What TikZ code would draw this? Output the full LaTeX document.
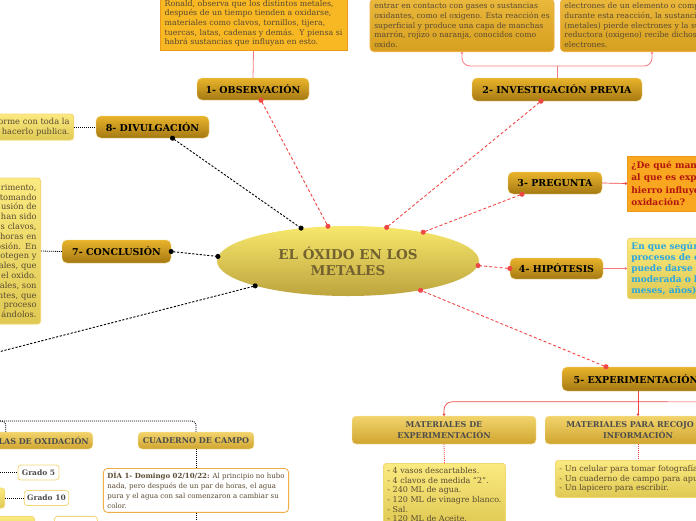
\documentclass[tikz,border=0pt]{standalone}
\usepackage{fontspec}
\setmainfont{DejaVu Serif}
\usetikzlibrary{shapes.geometric,arrows.meta,positioning}
\definecolor{topictop}{HTML}{E9B42B}
\definecolor{topicbot}{HTML}{A57913}
\definecolor{orangebox}{HTML}{F8B824}
\definecolor{orangeedge}{HTML}{EC9A1C}
\definecolor{darktop}{HTML}{EAB83C}
\definecolor{darkbot}{HTML}{D69F1E}
\definecolor{yelltop}{HTML}{FBEA80}
\definecolor{yellbot}{HTML}{DFC953}
\definecolor{yelledge}{HTML}{F4D775}
\definecolor{goldtop}{HTML}{F2D46C}
\definecolor{goldbot}{HTML}{D0A530}
\definecolor{linkred}{HTML}{F04646}
\definecolor{linkpink}{HTML}{F47C80}
\definecolor{centop}{HTML}{F8E86C}
\definecolor{cenbot}{HTML}{BDA43E}
\definecolor{centext}{HTML}{736230}
\definecolor{quest}{HTML}{B3150F}
\definecolor{hypo}{HTML}{2BA6E1}
\definecolor{notetext}{HTML}{5A4A32}
\tikzset{
  centre/.style={ellipse,minimum width=262pt,minimum height=70pt,inner sep=0pt,
    top color=centop,bottom color=cenbot,text=centext,align=center,
    font=\bfseries\fontsize{13.5}{16}\selectfont},
  topic/.style={rounded corners=5pt,top color=topictop,bottom color=topicbot,
    draw=topictop!60!white,inner sep=0pt,font=\bfseries\fontsize{9.5}{10}\selectfont},
  subtopic/.style={rounded corners=4pt,top color=goldtop,bottom color=goldbot,
    draw=goldtop!60!white,inner sep=0pt,align=center,text=black!70,
    font=\bfseries\fontsize{8}{11.5}\selectfont},
  note/.style={fill=orangebox,draw=orangeedge,line width=0.8pt,align=left,inner sep=4pt,
    text=notetext,font=\fontsize{7.9}{9.7}\selectfont},
  darknote/.style={note,rounded corners=4pt,top color=darktop,bottom color=darkbot,
    draw=orangeedge!80!white,font=\fontsize{7.7}{9.7}\selectfont},
  yellnote/.style={note,rounded corners=3pt,top color=yelltop,bottom color=yellbot,draw=yelledge,
    font=\fontsize{8.3}{9.8}\selectfont},
  listnote/.style={yellnote,font=\fontsize{8}{9.7}\selectfont},
  qnote/.style={note,fill=orangebox!90!red,text=quest,font=\bfseries\fontsize{9}{12.3}\selectfont},
  hnote/.style={yellnote,text=hypo,font=\bfseries\fontsize{9}{11}\selectfont},
  whitenote/.style={note,rounded corners=4pt,fill=white,draw=orangeedge!80!white,
    font=\fontsize{7}{9.8}\selectfont},
  gradebox/.style={rounded corners=3pt,fill=white,draw=yelledge,line width=0.8pt,inner sep=3pt,
    minimum height=15pt,text=black!70,font=\bfseries\fontsize{7.5}{8}\selectfont},
  redlink/.style={draw=linkred,line width=0.9pt,dash pattern=on 3pt off 2.2pt,
    {Circle[length=5pt]}-{Circle[length=5pt]},shorten <=-2.5pt,shorten >=-2.5pt},
  blacklink/.style={draw=black,line width=0.9pt,dash pattern=on 2.2pt off 1.6pt,
    {Circle[length=5pt]}-{Circle[length=5pt]},shorten <=-2.5pt,shorten >=-2.5pt},
  pinklink/.style={draw=linkpink,line width=0.8pt},
  tiplink/.style={draw=linkred,line width=0.7pt,-{Circle[length=2.5pt]}},
  dotlink/.style={draw=black,line width=0.8pt,dash pattern=on 1pt off 1pt},
  reddot/.style={draw=linkred,line width=0.8pt,dash pattern=on 1pt off 1pt},
}
\begin{document}
\begin{tikzpicture}[x=1pt,y=-1pt]
\useasboundingbox (0,0) rectangle (696,520);
\clip (0,0) rectangle (696,520);

\node[centre] (cen) at (348,261) {EL ÓXIDO EN LOS\\METALES};

\node[topic,minimum width=112pt,minimum height=22pt] (obs) at (253,89) {1- OBSERVACIÓN};
\node[topic,minimum width=170pt,minimum height=23pt] (inv) at (557,89.5) {2- INVESTIGACIÓN PREVIA};
\node[topic,minimum width=94pt,minimum height=22pt] (preg) at (555,183) {3- PREGUNTA};
\node[topic,minimum width=93pt,minimum height=21pt] (hip) at (556.5,268.5) {4- HIPÓTESIS};
\node[topic,minimum width=148pt,minimum height=24pt] (exp) at (636,379) {5- EXPERIMENTACIÓN};
\node[topic,minimum width=109pt,minimum height=23pt] (concl) at (116.5,251.5) {7- CONCLUSIÓN};
\node[topic,minimum width=113pt,minimum height=22pt] (div) at (152.5,127) {8- DIVULGACIÓN};

\node[note,anchor=south,minimum width=187pt] (obsbox) at (253.5,51)
  {Ronald, observa que los distintos metales,\\después de un tiempo tienden a oxidarse,\\materiales como clavos, tornillos, tijera,\\tuercas, latas, cadenas y demás.\ \ Y piensa si\\habrá sustancias que influyan en esto.};
\node[darknote,anchor=south,minimum width=184pt] (invA) at (462,52)
  {entrar en contacto con gases o sustancias\\oxidantes, como el oxigeno. Esta reacción es\\superficial y produce una capa de manchas\\marrón, rojizo o naranja, conocidos como\\oxido.};
\node[darknote,anchor=south west,text width=200pt] (invB) at (560,52)
  {electrones de un elemento o compuesto,\\durante esta reacción, la sustancia\\(metales) pierde electrones y la sustancia\\reductora (oxigeno) recibe dichos\\electrones.};
\node[qnote,anchor=west,minimum height=55pt] (qtext) at (627,183.5)
  {¿De qué manera el medio\\al que es expuesto el\\hierro influye en su\\oxidación?};
\node[hnote,anchor=west,minimum height=57pt] (htext) at (627,268.5)
  {En que según los\\procesos de oxidación\\puede darse de forma\\moderada o lenta (días,\\meses, años).};
\node[yellnote,anchor=east,text width=150pt,align=right,minimum height=146pt] (ctext) at (41,251)
  {rimento,\\tomando\\usión de\\han sido\\s clavos,\\horas en\\osión. En\\otegen y\\ales, que\\el oxido.\\ales, son\\ntes, que\\proceso\\ándolos.};
\node[yellnote,anchor=east,text width=120pt,align=right,minimum height=26pt] (dtext) at (74,127)
  {orme con toda la\\hacerlo publica.};

\node[subtopic,minimum width=184pt,minimum height=28pt] (matexp) at (444,430) {MATERIALES DE\\EXPERIMENTACIÓN};
\node[subtopic,minimum width=186pt,minimum height=28pt] (matrec) at (638,430) {MATERIALES PARA RECOJO DE\\INFORMACIÓN};
\node[listnote,anchor=north,minimum width=119pt] (listexp) at (444.5,463)
  {- 4 vasos descartables.\\- 4 clavos de medida “2”.\\- 240 ML de agua.\\- 120 ML de vinagre blanco.\\- Sal.\\- 120 ML de Aceite.};
\node[listnote,anchor=north west,text width=200pt,minimum height=37pt] (listrec) at (555,460)
  {- Un celular para tomar fotografías.\\- Un cuaderno de campo para apuntes.\\- Un lapicero para escribir.};

\node[subtopic,anchor=east,text width=166pt,align=right,minimum height=17pt,inner xsep=4pt] (tablas) at (93,440.5) {LAS DE OXIDACIÓN};
\node[subtopic,minimum width=116pt,minimum height=17pt] (cuaderno) at (196,440.5) {CUADERNO DE CAMPO};
\node[whitenote,anchor=north,minimum width=184pt] (dia) at (196,468)
  {{\bfseries DÍA 1- Domingo 02/10/22:} Al principio no hubo\\nada, pero después de un par de horas, el agua\\pura y el agua con sal comenzaron a cambiar su\\color.};
\node[gradebox,minimum width=41pt] (grado5) at (38.5,472.5) {Grado 5};
\node[gradebox,minimum width=43pt] (grado10) at (46.5,498) {Grado 10};
\node[yellnote,anchor=east,minimum width=40pt,minimum height=20pt] (escala) at (5,498) {};
\node[yellnote,anchor=north east,minimum width=60pt,minimum height=20pt] (escalab) at (35,516) {};
\node[gradebox,anchor=north west,minimum width=43pt,minimum height=20pt] (gradob) at (54,516) {};

\coordinate (six) at (-60,367);
\coordinate (trunk) at (-40,421);
\coordinate (gradein) at (-10,472.5);
\coordinate (diaout) at (196,540);
\coordinate (expright) at (780,402);

\draw[redlink] ([xshift=8pt]obs.south) -- (cen.120);
\draw[redlink] ([xshift=-16pt]inv.south) -- (cen.41);
\draw[redlink] ([xshift=-33pt]preg.south) -- (cen.21);
\draw[redlink] (hip.west) -- (cen.358);
\draw[redlink] ([xshift=-30pt]exp.north) -- (cen.338);
\draw[blacklink] (concl.east) -- (cen.178);
\draw[blacklink] ([xshift=20pt]div.south) -- (cen.145);
\draw[blacklink,{Circle[length=5pt]}-] (cen.195) -- (six);

\draw[pinklink] (obsbox.south) -- (obs.north);
\draw[pinklink,rounded corners=8pt,{Circle[length=2pt]}-{Circle[length=2pt]}] (invA.south) -- ++(0,14) -| ([xshift=92pt]invB.south west);
\draw[pinklink] (inv.north) -- ++(0,-12);
\draw[tiplink] (preg.east) -- (qtext.west);
\draw[pinklink,-{Circle[length=2.5pt]}] (hip.east) -- (htext.west);

\draw[tiplink,rounded corners=8pt] (matrec.north) ++(0,-14) -| (matexp.north);
\draw[tiplink] (exp.south -| matrec.north) -- (matrec.north);
\draw[linkred,line width=0.7pt] (matrec.north) ++(0,-14) -- (expright);
\draw[reddot] (matexp.south) -- (listexp.north);
\draw[reddot] (matrec.south) -- (listrec.north -| matrec.south);

\draw[dotlink] (ctext.east) -- (concl.west);
\draw[dotlink] (dtext.east) -- (div.west);
\draw[dotlink,rounded corners=4pt] (trunk) -| (cuaderno.north);
\draw[dotlink,rounded corners=4pt] (trunk) -| (tablas.north);
\draw[dotlink] (cuaderno.south) -- (dia.north);
\draw[dotlink] (dia.south) -- (diaout);
\draw[dotlink] (gradein) -- (grado5.west);
\draw[dotlink] (escala.east) -- (grado10.west);
\end{tikzpicture}
\end{document}
